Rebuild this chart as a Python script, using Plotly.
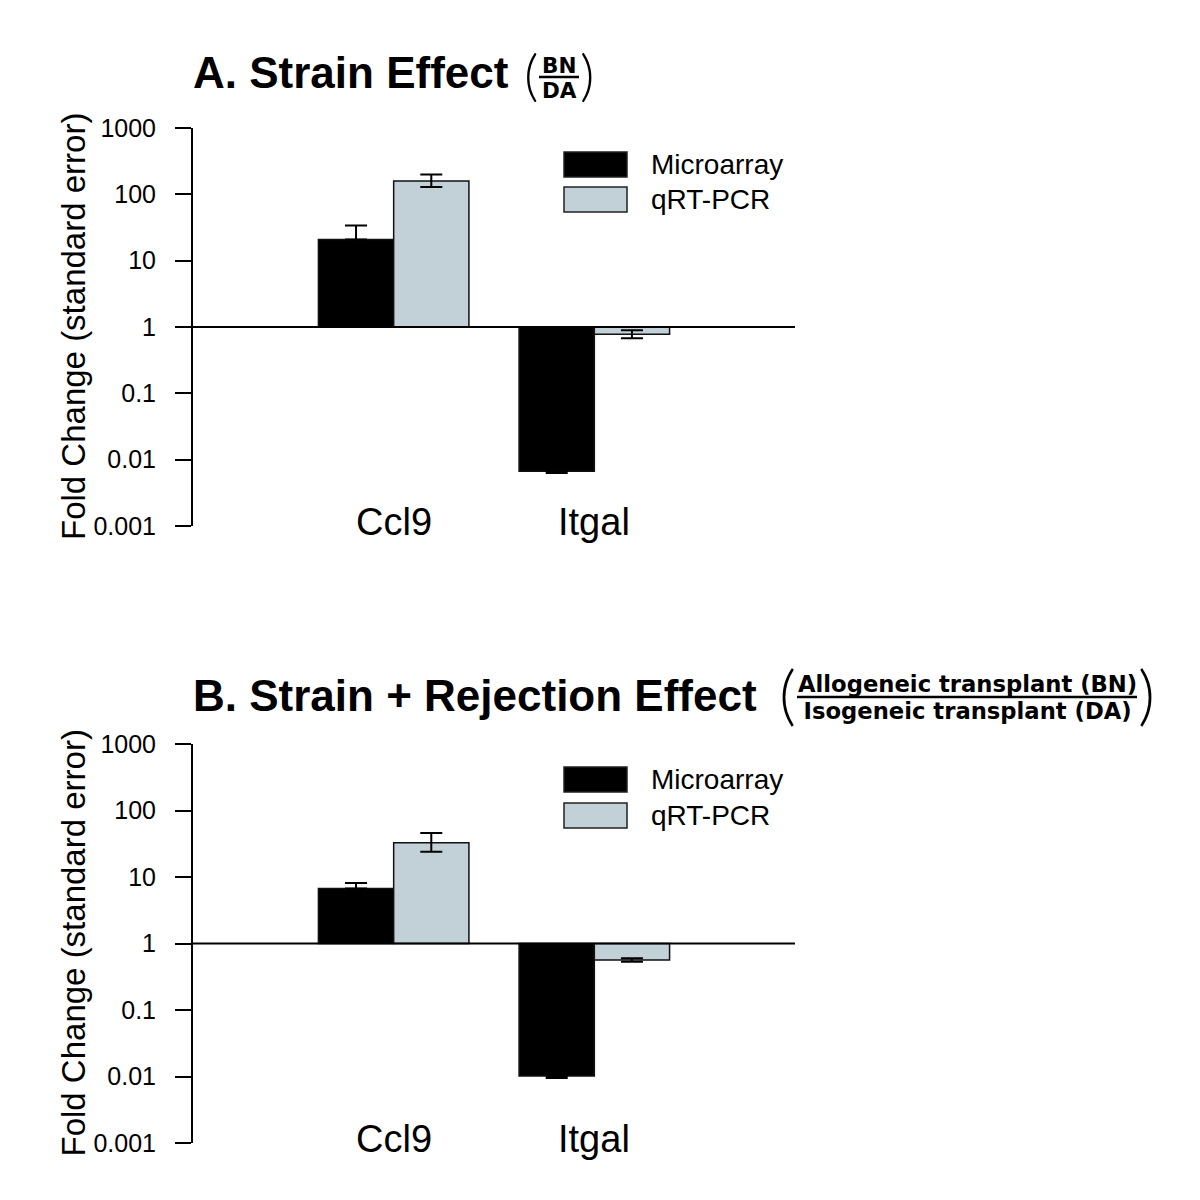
import plotly.graph_objects as go

# ---------------- data ----------------
genes = ["Ccl9", "Itgal"]
series_names = ["Microarray", "qRT-PCR"]

# Panel A: Strain effect (BN/DA)
a_micro = [20.8, 0.0067]
a_micro_hi = [34.0, 0.0067]
a_micro_lo = [20.8, 0.0063]
a_qpcr = [159.0, 0.776]
a_qpcr_hi = [199.0, 0.89]
a_qpcr_lo = [129.0, 0.675]

# Panel B: Strain + rejection effect
b_micro = [6.7, 0.0102]
b_micro_hi = [8.1, 0.0102]
b_micro_lo = [6.7, 0.0095]
b_qpcr = [32.7, 0.563]
b_qpcr_hi = [46.0, 0.60]
b_qpcr_lo = [24.0, 0.53]

tick_vals = [0.001, 0.01, 0.1, 1, 10, 100, 1000]
tick_text = ["0.001", "0.01", "0.1", "1", "10", "100", "1000"]

FONT = "Liberation Sans, Arial, Helvetica, sans-serif"
FRAC_FONT = "DejaVu Sans, Liberation Sans, Arial, sans-serif"
PAREN_FONT = "Lato, Liberation Sans, Arial, sans-serif"
MICRO_COLOR = "#000000"
QPCR_COLOR = "#C2D0D8"

# page body has an 8px margin; work in screenshot pixels
OFF = 8
W = H = 1200 - 2 * OFF


def px(x):
    return (x - OFF) / W


def py(y):
    return 1 - (y - OFF) / H


fig = go.Figure()

panels = [
    (a_micro, a_micro_hi, a_micro_lo, a_qpcr, a_qpcr_hi, a_qpcr_lo, "x", "y"),
    (b_micro, b_micro_hi, b_micro_lo, b_qpcr, b_qpcr_hi, b_qpcr_lo, "x2", "y2"),
]

for (m, mh, ml, q, qh, ql, xa, ya) in panels:
    for vals, hi, lo, color, name in [
        (m, mh, ml, MICRO_COLOR, series_names[0]),
        (q, qh, ql, QPCR_COLOR, series_names[1]),
    ]:
        fig.add_trace(go.Bar(
            x=genes,
            y=[v - 1 for v in vals],
            base=1,
            name=name,
            marker=dict(color=color, line=dict(color="#111111", width=1.5)),
            error_y=dict(
                type="data",
                symmetric=False,
                array=[h - v for h, v in zip(hi, vals)],
                arrayminus=[v - l for l, v in zip(lo, vals)],
                color="#000000",
                thickness=2,
                width=11,
            ),
            showlegend=False,
            xaxis=xa,
            yaxis=ya,
        ))

yaxis_common = dict(
    type="log",
    range=[-3, 3],
    tickvals=tick_vals,
    ticktext=tick_text,
    ticks="outside",
    ticklen=16,
    tickwidth=2,
    tickcolor="#000000",
    showline=True,
    linewidth=2,
    linecolor="#000000",
    showgrid=False,
    zeroline=False,
    automargin=False,
    tickfont=dict(family=FONT, size=25, color="#000000"),
    ticklabelstandoff=14,
)
xaxis_common = dict(
    range=[-1, 2],
    showline=False,
    showgrid=False,
    zeroline=False,
    showticklabels=False,
    ticks="",
    automargin=False,
)

fig.update_layout(
    width=W,
    height=H,
    margin=dict(l=0, r=0, t=0, b=0, pad=0, autoexpand=False),
    paper_bgcolor="white",
    plot_bgcolor="white",
    barmode="group",
    bargap=0.25,
    bargroupgap=0,
    showlegend=False,
    font=dict(family=FONT, color="#000000"),
    xaxis=dict(domain=[px(193), px(795)], anchor="y", **xaxis_common),
    yaxis=dict(domain=[py(526), py(128)], anchor="x", **yaxis_common),
    xaxis2=dict(domain=[px(193), px(795)], anchor="y2", **xaxis_common),
    yaxis2=dict(domain=[py(1143), py(744)], anchor="x2", **yaxis_common),
)

shapes = []
annotations = []

for xa, ya, ytop, ybot, leg_y1, leg_y2 in [
    ("x", "y", 128, 526, 152, 187),
    ("x2", "y2", 744, 1143, 767, 803),
]:
    # reference line at fold change = 1
    shapes.append(dict(type="line", xref=f"{xa} domain", yref=ya,
                       x0=0, x1=1, y0=1, y1=1,
                       line=dict(color="#000000", width=2)))
    # manual legend
    for ly, color, name in [(leg_y1, MICRO_COLOR, series_names[0]),
                            (leg_y2, QPCR_COLOR, series_names[1])]:
        shapes.append(dict(type="rect", xref="paper", yref="paper",
                           x0=px(564), x1=px(627), y0=py(ly), y1=py(ly + 25),
                           fillcolor=color, line=dict(color="#222222", width=1.5)))
        annotations.append(dict(text=name, xref="paper", yref="paper",
                                x=px(649), y=py(ly + 12.5), xanchor="left", yanchor="middle",
                                showarrow=False, font=dict(family=FONT, size=28, color="#000000")))
    # category labels
    for g in genes:
        annotations.append(dict(text=g, xref=xa, yref="paper", x=g, y=py(ybot - 4),
                                xanchor="center", yanchor="middle", showarrow=False,
                                font=dict(family=FONT, size=38, color="#000000")))
    # y-axis title
    annotations.append(dict(text="Fold Change (standard error)", xref="paper", yref="paper",
                            x=px(73), y=py((ytop + ybot) / 2), xanchor="center", yanchor="middle",
                            textangle=-90, showarrow=False,
                            font=dict(family=FONT, size=33, color="#000000")))


def paren(ch, x, y, size, anchor):
    annotations.append(dict(text=ch, xref="paper", yref="paper", x=px(x), y=py(y),
                            xanchor=anchor, yanchor="middle", showarrow=False, borderpad=0,
                            font=dict(family=PAREN_FONT, size=size, color="#000000", weight=300)))


def fraction(num, den, x, y, glyph_size, line_font):
    # small base font sets the line spacing, spans set the glyph size
    annotations.append(dict(
        text=f"<b><span style='font-size:{glyph_size}px'>{num}</span></b><br>"
             f"<b><span style='font-size:{glyph_size}px'>{den}</span></b>",
        xref="paper", yref="paper", x=px(x), y=py(y),
        xanchor="center", yanchor="middle", align="center", showarrow=False, borderpad=0,
        font=dict(family=FRAC_FONT, size=line_font, color="#000000")))


# ---- Panel A title ----
annotations.append(dict(text="<b>A. Strain Effect</b>", xref="paper", yref="paper",
                        x=px(191), y=py(72), xanchor="left", yanchor="middle", showarrow=False,
                        font=dict(family=FONT, size=44, color="#000000")))
paren("(", 539, 74, 56, "right")
paren(")", 579, 74, 56, "left")
fraction("BN", "DA", 559, 77.5, 21.5, 19.3)
shapes.append(dict(type="line", xref="paper", yref="paper", x0=px(539), x1=px(579),
                   y0=py(77), y1=py(77), line=dict(color="#000000", width=2.5)))

# ---- Panel B title ----
annotations.append(dict(text="<b>B. Strain + Rejection Effect</b>", xref="paper", yref="paper",
                        x=px(191), y=py(695), xanchor="left", yanchor="middle", showarrow=False,
                        font=dict(family=FONT, size=44, color="#000000")))
paren("(", 797, 692, 66, "right")
paren(")", 1137, 692, 66, "left")
fraction("Allogeneic transplant (BN)", "Isogeneic transplant (DA)", 967, 697.5, 22.7, 20.8)
shapes.append(dict(type="line", xref="paper", yref="paper", x0=px(797), x1=px(1137),
                   y0=py(697), y1=py(697), line=dict(color="#000000", width=2.5)))

fig.update_layout(shapes=shapes, annotations=annotations)

fig.write_html("out.html")
